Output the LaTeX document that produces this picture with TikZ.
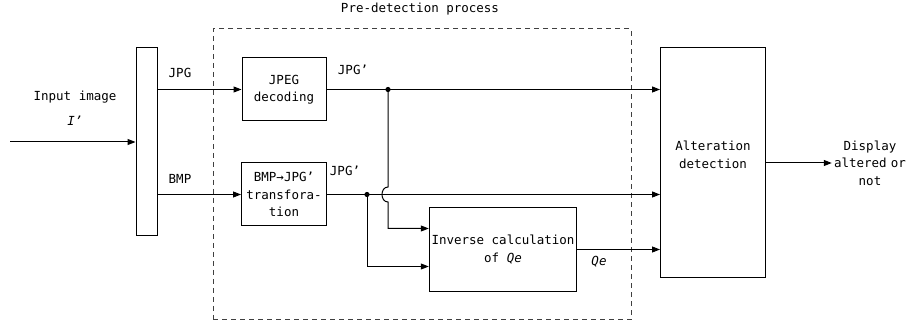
\documentclass[tikz,border=0pt]{standalone}
\usepackage{fontspec}
\setmainfont{DejaVu Sans Mono}
\usetikzlibrary{arrows.meta}
\begin{document}
\begin{tikzpicture}[x=1pt,y=-1pt,
  every node/.style={font=\fontsize{12.5}{17.5}\selectfont, inner sep=0pt, align=center},
  box/.style={draw, line width=1pt},
  conn/.style={line width=1pt, -{Triangle[length=8pt,width=6pt]}},
  wire/.style={line width=1pt}]
\useasboundingbox (0,0) rectangle (911,331);
% dashed pre-detection region
\node[draw, line width=1pt, black!75, dash pattern=on 5pt off 4pt, minimum width=418pt, minimum height=291pt] (pre) at (422,174.5) {};
\node (pretitle) at (420,9) {Pre-detection process};
% boxes
\node[box, minimum width=21pt, minimum height=188pt] (split) at (146.5,142) {};
\node[box, minimum width=84pt, minimum height=63pt] (jdec) at (284,89.5) {JPEG\\decoding};
\node[box, minimum width=85pt, minimum height=63pt] (bmp) at (284,194.5) {BMP→JPG'\\transfora-\\tion};
\node[box, minimum width=147.5pt, minimum height=84.5pt] (inv) at (503,249.5) {Inverse calculation\\of \textit{Qe}};
\node[box, minimum width=105pt, minimum height=230pt] (alt) at (713,163) {};
\node (altlabel) at (713,155) {Alteration\\detection};
\node[text width=76pt] (disp) at (870,163) {Display\\altered or\\not};
% labels
\node (inlabel) at (75,97) {Input image};
\node (inname) at (75,121) {\textit{I'}};
\node (jpglabel) at (180,73) {JPG};
\node (bmplabel) at (180,179) {BMP};
\node (jpgp1) at (353,70) {JPG'};
\node (jpgp2) at (345,171) {JPG'};
\node (qelabel) at (599,262) {\textit{Qe}};
% coordinates
\coordinate (src) at (10,142);
\coordinate (d1) at (388,89.5);
\coordinate (d2) at (367,194.5);
\coordinate (hopA) at (388,187);
\coordinate (hopB) at (388,202);
\coordinate (j1) at (388,228.5);
\coordinate (j2) at (367,266.5);
% connectors
\draw[conn] (src) -- (split.west);
\draw[conn] (split.east |- jdec.west) -- (jdec.west);
\draw[conn] (split.east |- bmp.west) -- (bmp.west);
\draw[conn] (jdec.east) -- (alt.west |- jdec.east);
\draw[conn] (bmp.east) -- (alt.west |- bmp.east);
\draw[conn] (inv.east) -- (alt.west |- inv.east);
\draw[conn] (d1) -- (hopA) .. controls (380,187) and (380,202) .. (hopB) -- (j1) -- (j1 -| inv.west);
\draw[conn] (d2) -- (j2) -- (j2 -| inv.west);
\draw[conn] (alt.east) -- (disp.west);
\fill (d1) circle (2.6pt);
\fill (d2) circle (2.6pt);
\end{tikzpicture}
\end{document}
